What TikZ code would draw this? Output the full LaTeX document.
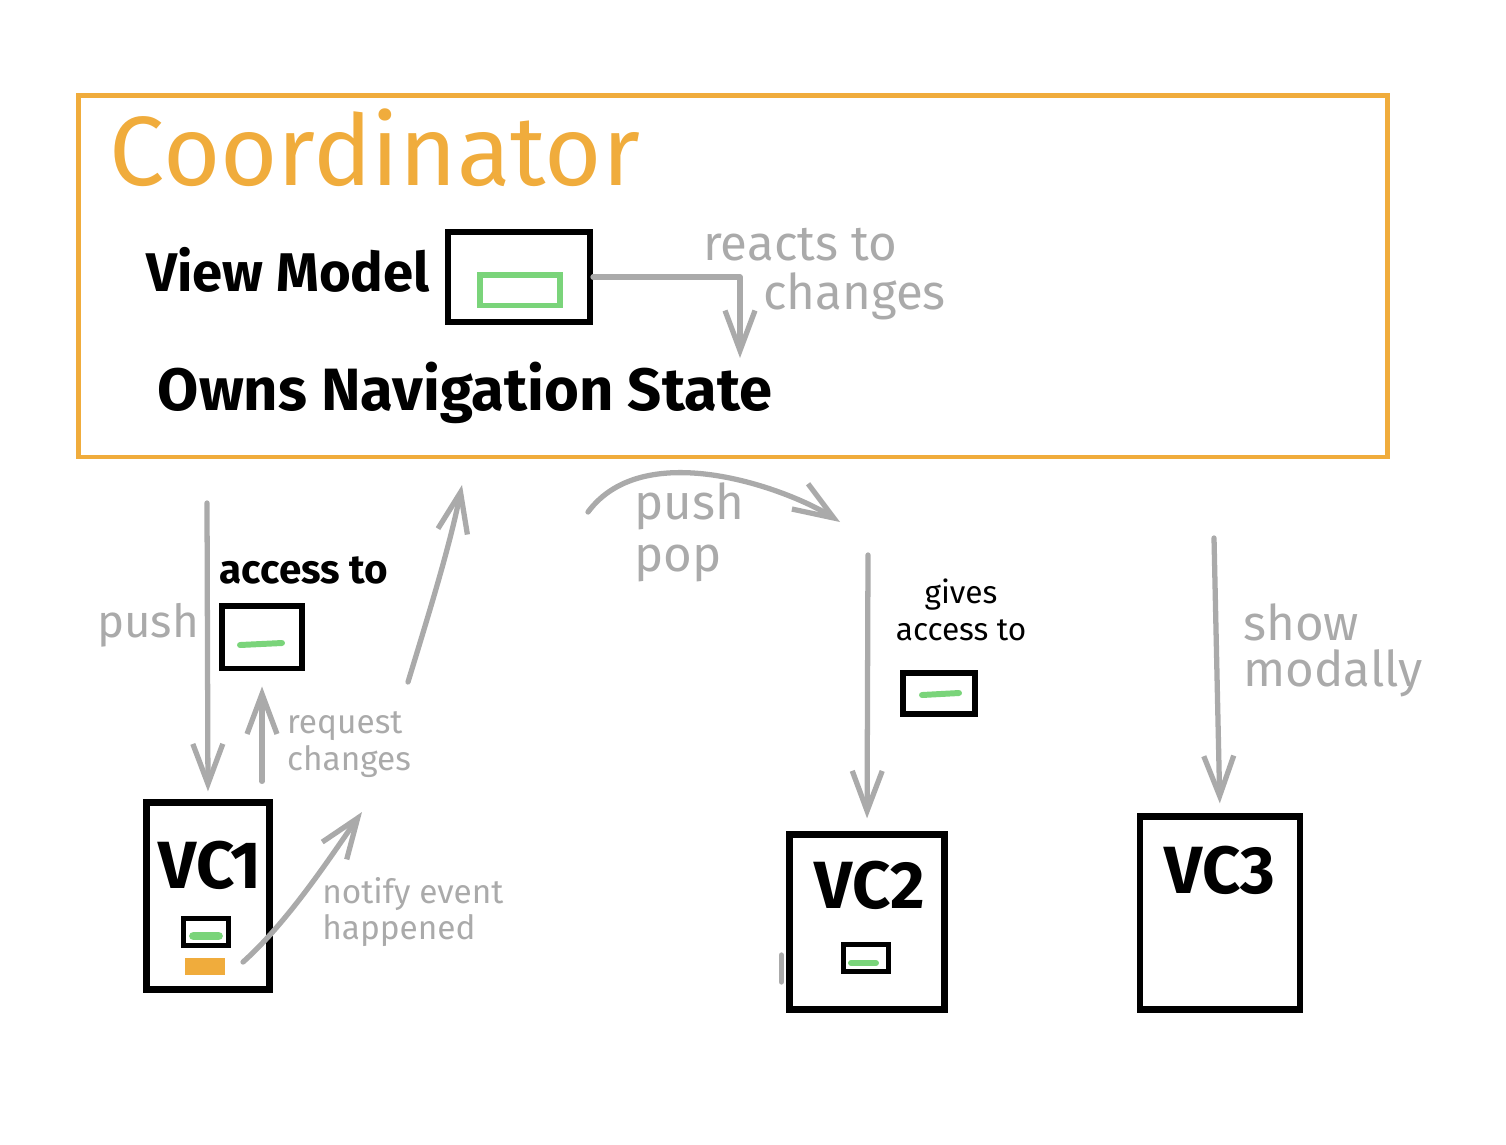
\documentclass[tikz,border=0pt]{standalone}
\usepackage{fontspec}
\setmainfont{Fira Sans}
\usepackage{xcolor}
\usepackage{tikz}
\usetikzlibrary{positioning,arrows.meta,calc}

\definecolor{coordorange}{RGB}{240,172,60}
\definecolor{sketchgray}{RGB}{170,170,170}
\definecolor{sketchgreen}{RGB}{122,212,122}

\begin{document}
\begin{tikzpicture}[x=0.02cm, y=-0.02cm,
  coordbox/.style={draw=coordorange, line width=2.8pt, minimum width=26.2cm, minimum height=7.24cm},
  vcbox/.style={draw, line width=3.6pt},
  vmbox/.style={draw, line width=3.4pt, inner sep=0pt},
  smallvm/.style={draw, line width=2.4pt, inner sep=0pt, minimum width=0.9cm, minimum height=0.54cm},
  greenbar/.style={draw=sketchgreen, line width=3.4pt, line cap=round},
  lbl/.style={font=\bfseries\fontsize{34}{40}\selectfont},
  vclbl/.style={font=\bfseries\fontsize{38}{40}\selectfont},
  note/.style={text=sketchgray, align=left, inner sep=0pt},
  arr/.style={-{Straight Barb[length=8mm, width=6mm]}, line width=3pt, draw=sketchgray, line cap=round, line join=round}
]
\useasboundingbox (0,0) rectangle (1506,1144);

% coordinator and its view model
\node[coordbox] (coordinator) at (733,276) {};
\node[text=coordorange, font=\fontsize{56}{60}\selectfont] (coordlbl) at (375,148) {Coordinator};
\node[lbl, font=\bfseries\fontsize{31}{36}\selectfont] (vmlbl) at (288,270) {View Model};
\node[vmbox, minimum width=2.84cm, minimum height=1.8cm] (vm) at (519,277) {};
\node[draw=sketchgreen, line width=3.4pt, minimum width=1.6cm, minimum height=0.62cm, inner sep=0pt] (vmstate) at (520,290) {};
\node[lbl] (owns) at (465,393) {Owns Navigation State};

\coordinate (reactsend) at (740,358);
\draw[arr] (vm.east) -| (reactsend);
\node[note, font=\fontsize{28}{28}\selectfont, anchor=north west] (reactslbl) at (703,228) {reacts to\\\hspace*{1.2cm}changes};

% view controllers
\node[vcbox, minimum width=2.46cm, minimum height=3.74cm] (vc1) at (208,896) {};
\node[vclbl] (vc1lbl) at (210,865) {VC1};
\node[smallvm] (vc1vm) at (206,932) {};
\draw[greenbar, line width=5pt] ([xshift=-0.25cm, yshift=-0.08cm]vc1vm.center) -- ([xshift=0.25cm, yshift=-0.08cm]vc1vm.center);
\node[fill=coordorange, minimum width=0.8cm, minimum height=0.34cm, inner sep=0pt] (vc1evt) at (205,966) {};

\node[vcbox, minimum width=3.1cm, minimum height=3.5cm] (vc2) at (867,922) {};
\node[vclbl] (vc2lbl) at (870,885) {VC2};
\node[smallvm] (vc2vm) at (866,958) {};
\draw[greenbar] ([xshift=-0.3cm, yshift=-0.1cm]vc2vm.center) -- ([xshift=0.2cm, yshift=-0.1cm]vc2vm.center);
\draw[sketchgray, line width=3pt, line cap=round] ([xshift=-0.1cm, yshift=-0.66cm]vc2.west) -- ([xshift=-0.1cm, yshift=-1.2cm]vc2.west);

\node[vcbox, minimum width=3.2cm, minimum height=3.86cm] (vc3) at (1220,913) {};
\node[vclbl] (vc3lbl) at (1220,870) {VC3};

% VC1: push, access to view model
\coordinate (pushtop) at (207,503);
\draw[arr, shorten >=0.16cm] (pushtop) -- (vc1.north);
\node[note, font=\fontsize{26}{28}\selectfont] (pushlbl) at (148,625) {push};
\node[font=\bfseries\fontsize{23}{28}\selectfont] (accesslbl) at (304,570) {access to};
\node[vmbox, minimum width=1.6cm, minimum height=1.26cm] (vm1) at (262,637) {};
\draw[greenbar] ([xshift=-0.44cm, yshift=-0.16cm]vm1.center) -- ([xshift=0.4cm, yshift=-0.12cm]vm1.center);
\draw[arr, shorten <=0.36cm, shorten >=0.3cm] (vm1.south |- vc1.north) -- (vm1.south);
\node[note, font=\fontsize{19}{21}\selectfont] (reqlbl) at (349,745) {request\\changes};

\coordinate (notifystart) at (243,962);
\coordinate (notifyend) at (362,812);
\draw[arr] (notifystart) .. controls (290,920) and (335,850) .. (notifyend);
\node[note, font=\fontsize{19}{21}\selectfont, anchor=west] (notifylbl) at (322,912) {notify event\\happened};

\coordinate (upstart) at (408,682);
\coordinate (upend) at (462,485);
\draw[arr] (upstart) .. controls (430,610) and (450,545) .. (upend);

% VC2: push / pop
\coordinate (ppstart) at (588,512);
\coordinate (ppend) at (840,522);
\draw[arr] (ppstart) .. controls (645,435) and (790,490) .. (ppend);
\node[note, font=\fontsize{28}{30}\selectfont, anchor=north west] (pplbl) at (634,482) {push\\pop};

\coordinate (vc2top) at (868,555);
\draw[arr, shorten >=0.26cm] (vc2top) -- (vc2.north);
\node[align=center, font=\fontsize{18}{21}\selectfont] (giveslbl) at (961,610) {gives\\access to};
\node[vmbox, minimum width=1.44cm, minimum height=0.82cm] (vm2) at (939,693) {};
\draw[greenbar] ([xshift=-0.34cm, yshift=-0.04cm]vm2.center) -- ([xshift=0.4cm, yshift=0cm]vm2.center);

% VC3: modal
\coordinate (vc3top) at (1214,538);
\draw[arr, shorten >=0.2cm] (vc3top) -- (vc3.north);
\node[note, font=\fontsize{28}{26}\selectfont, anchor=west] (modallbl) at (1243,650) {show\\modally};

\end{tikzpicture}
\end{document}
